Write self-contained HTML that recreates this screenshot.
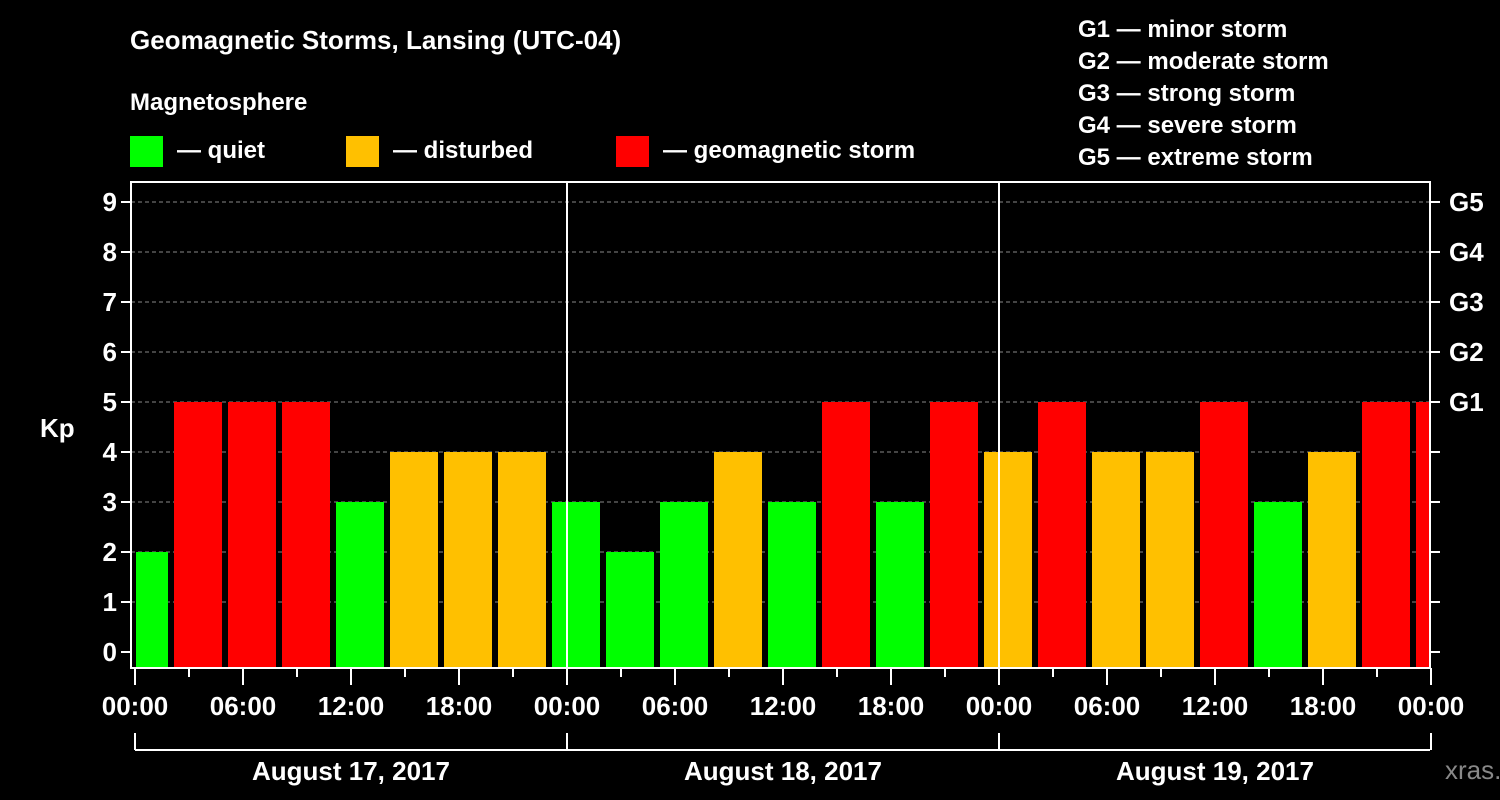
<!DOCTYPE html>
<html><head><meta charset="utf-8"><style>
body{margin:0;background:#000;}
svg{display:block;font-family:"Liberation Sans",sans-serif;font-weight:bold;}
</style></head><body>
<svg id="chart" width="1500" height="800" viewBox="0 0 1500 800">
<rect width="1500" height="800" fill="#000"/>
<text x="130" y="49" fill="#fff" font-size="26">Geomagnetic Storms, Lansing (UTC-04)</text>
<text x="130" y="110" fill="#fff" font-size="24">Magnetosphere</text>
<g><rect x="130" y="136" width="33" height="31" fill="#00ff00"/><text x="177" y="158" fill="#fff" font-size="24">— quiet</text></g>
<g><rect x="346" y="136" width="33" height="31" fill="#ffc000"/><text x="393" y="158" fill="#fff" font-size="24">— disturbed</text></g>
<g><rect x="616" y="136" width="33" height="31" fill="#ff0000"/><text x="663" y="158" fill="#fff" font-size="24">— geomagnetic storm</text></g>
<g fill="#fff" font-size="24">
<text x="1078" y="37">G1 — minor storm</text>
<text x="1078" y="69">G2 — moderate storm</text>
<text x="1078" y="101">G3 — strong storm</text>
<text x="1078" y="133">G4 — severe storm</text>
<text x="1078" y="165">G5 — extreme storm</text>
</g>
<text x="40" y="437" fill="#fff" font-size="26">Kp</text>
<text x="1445" y="779" fill="#888" font-size="26" font-weight="normal">xras.ru</text>
<g id="grid"></g><g id="bars"></g><g id="axes"></g>
</svg>
<script>
const kpValues=[2,5,5,5,3,4,4,4,3,2,3,4,3,5,3,5,4,5,4,4,5,3,4,5,5];
const yTicks=[0,1,2,3,4,5,6,7,8,9];
const gLabels=["G1","G2","G3","G4","G5"];
const dayLabels=["August 17, 2017","August 18, 2017","August 19, 2017"];
const hourLabels=["00:00","06:00","12:00","18:00"];
const NS="http://www.w3.org/2000/svg";
const X0=135,X1=1430,PX_H=18,Y0=652,PX_K=50,TOP=182,BOT=668,FL=131;
const x=h=>X0+h*PX_H, y=k=>Y0-k*PX_K;
function mk(t,a,p){const e=document.createElementNS(NS,t);for(const k in a)e.setAttribute(k,a[k]);p.appendChild(e);return e;}
const grid=document.getElementById('grid'),bars=document.getElementById('bars'),axes=document.getElementById('axes');
yTicks.forEach(k=>{if(k>0){const l=mk('line',{x1:FL,x2:X1,y1:y(k),y2:y(k),stroke:'#888','stroke-dasharray':'4,3','stroke-width':1},grid);

}});
const col=k=>k>=5?'#ff0000':(k>=4?'#ffc000':'#00ff00');
kpValues.forEach((k,i)=>{let s=x(3*i-1)+3,e=x(3*i+2)-3;s=Math.max(s,X0+1);e=Math.min(e,X1);
const r=mk('rect',{x:s,y:y(k),width:e-s,height:BOT-y(k),fill:col(k)},bars);

});
const fr=mk('rect',{x:FL,y:TOP,width:X1-FL,height:BOT-TOP,fill:'none',stroke:'#fff','stroke-width':2},axes);


[1,2].forEach(d=>{const l=mk('line',{x1:x(24*d),x2:x(24*d),y1:TOP,y2:BOT,stroke:'#fff','stroke-width':2},axes);

});
yTicks.forEach(k=>{mk('line',{x1:FL-10,x2:FL,y1:y(k),y2:y(k),stroke:'#fff','stroke-width':2},axes);
mk('line',{x1:X1,x2:X1+10,y1:y(k),y2:y(k),stroke:'#fff','stroke-width':2},axes);
const t=mk('text',{x:FL-14,y:y(k)+9,fill:'#fff','font-size':26,'text-anchor':'end'},axes);t.textContent=k;


if(k>=5){const g=mk('text',{x:1449,y:y(k)+9,fill:'#fff','font-size':26},axes);g.textContent=gLabels[k-5];

}});
for(let h=0;h<=72;h+=3){const maj=h%6===0;mk('line',{x1:x(h),x2:x(h),y1:BOT,y2:BOT+(maj?17:9),stroke:'#fff','stroke-width':2},axes);
if(maj){const t=mk('text',{x:x(h),y:715,fill:'#fff','font-size':26,'text-anchor':'middle'},axes);t.textContent=hourLabels[(h/6)%4];

}}
mk('line',{x1:X0,x2:X1,y1:750,y2:750,stroke:'#fff','stroke-width':2},axes);
[0,1,2,3].forEach(d=>mk('line',{x1:x(24*d),x2:x(24*d),y1:733,y2:750,stroke:'#fff','stroke-width':2},axes));
dayLabels.forEach((s,d)=>{const t=mk('text',{x:x(24*d+12),y:780,fill:'#fff','font-size':26,'text-anchor':'middle'},axes);t.textContent=s;

});
</script>
</body></html>
